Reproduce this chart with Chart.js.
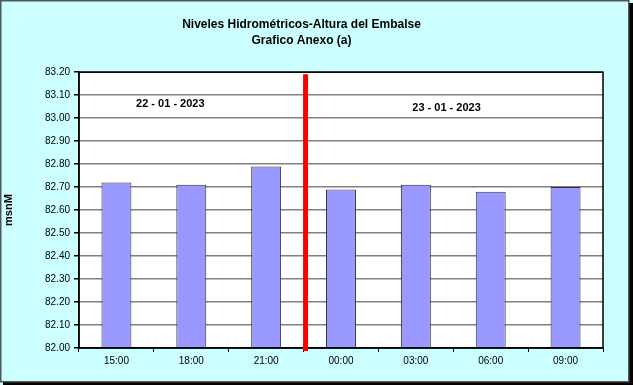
<!DOCTYPE html>
<html>
<head>
<meta charset="utf-8">
<script src="https://cdn.jsdelivr.net/npm/chart.js@4/dist/chart.umd.min.js"></script>
<style>
  html, body { margin: 0; padding: 0; background: #fff; }
  #wrap { width: 633px; height: 385px; position: relative; }
</style>
</head>
<body>
<div id="wrap"><canvas id="myChart" width="633" height="385"></canvas></div>
<script>
const horas = ["15:00", "18:00", "21:00", "00:00", "03:00", "06:00", "09:00"];
const alturas = [82.72, 82.71, 82.79, 82.69, 82.71, 82.68, 82.70];
const fechas = ["22 - 01 - 2023", "23 - 01 - 2023"];
// where the date labels sit, in axis units (category index, msnM)
const fechaX = [0.72, 4.41];
const fechaY = [83.06, 83.045];
const cambioDia = 2.5; // red line between 21:00 and 00:00

const fondo = {
  id: "fondo",
  beforeDraw(chart) {
    const c = chart.ctx;
    c.save();
    c.fillStyle = "#ccffff";
    c.fillRect(0, 0, 633, 385);
    // black drop shadow right/bottom
    c.fillStyle = "#000";
    c.fillRect(629, 3, 4, 382);
    c.fillRect(3, 382, 630, 3);
    // grey frame
    c.strokeStyle = "#555";
    c.lineWidth = 1.5;
    c.strokeRect(0.75, 0.75, 628, 381);
    // white plot area
    const a = chart.chartArea;
    c.fillStyle = "#fff";
    c.fillRect(a.left, a.top, a.right - a.left, a.bottom - a.top);
    c.restore();
  },
  afterDatasetsDraw(chart) {
    const c = chart.ctx;
    const a = chart.chartArea;
    const x = chart.scales.x;
    const y = chart.scales.y;
    c.save();
    c.strokeStyle = "#000";
    c.lineWidth = 1.5;
    c.strokeRect(a.left, a.top, a.right - a.left, a.bottom - a.top);
    // day change marker
    const xr = x.getPixelForValue(cambioDia) + 2;
    c.fillStyle = "#ff0000";
    c.fillRect(xr - 2.5, a.top + 2, 5, a.bottom - a.top + 1);
    c.fillStyle = "#000";
    c.font = "bold 11px 'Liberation Sans', Arial, sans-serif";
    c.textAlign = "center";
    c.textBaseline = "middle";
    fechas.forEach((f, i) => {
      c.fillText(f, x.getPixelForValue(fechaX[i]), y.getPixelForValue(fechaY[i]));
    });
    c.restore();
  }
};

const ctx = document.getElementById("myChart");

new Chart(ctx, {
  type: "bar",
  data: {
    labels: horas,
    datasets: [
      {
        label: "msnM",
        data: alturas,
        backgroundColor: "#9999ff",
        borderColor: "#333333",
        borderWidth: 1,
        borderSkipped: "bottom",
        barPercentage: 0.4,
        categoryPercentage: 1,
        base: 82,
      },
    ],
  },
  options: {
    responsive: false,
    animation: false,
    layout: { padding: { left: 0, right: 30, top: 0, bottom: 0 } },
    plugins: {
      legend: { display: false },
      tooltip: { enabled: false },
      title: {
        display: true,
        text: ["Niveles Hidrométricos-Altura del Embalse", "Grafico Anexo (a)"],
        color: "#000",
        font: { family: "'Liberation Sans', Arial, sans-serif", size: 12, weight: "bold", lineHeight: 1.3 },
        padding: { top: 17, bottom: 24 },
      },
    },
    scales: {
      x: {
        grid: {
          display: true,
          drawOnChartArea: false,
          drawTicks: true,
          tickLength: 4,
          color: "#000",
          offset: true,
        },
        border: { display: true, color: "#000", width: 1.5 },
        ticks: {
          color: "#000",
          font: { family: "'Liberation Sans', Arial, sans-serif", size: 10 },
          padding: 3,
        },
        afterFit(scale) { scale.height = 37; },
      },
      y: {
        min: 82,
        max: 83.2,
        grid: {
          color: "#808080",
          lineWidth: 1.5,
          tickLength: 5,
          tickColor: "#000",
        },
        border: { display: true, color: "#000", width: 1.5 },
        ticks: {
          stepSize: 0.1,
          color: "#000",
          font: { family: "'Liberation Sans', Arial, sans-serif", size: 10 },
          padding: 4,
          callback: (v) => v.toFixed(2),
        },
        title: {
          display: true,
          text: "msnM",
          color: "#000",
          font: { family: "'Liberation Sans', Arial, sans-serif", size: 11, weight: "bold" },
          padding: { top: 2, bottom: 0 },
        },
        afterFit(scale) { scale.width = 79; },
      },
    },
  },
  plugins: [fondo],
});
</script>
</body>
</html>
